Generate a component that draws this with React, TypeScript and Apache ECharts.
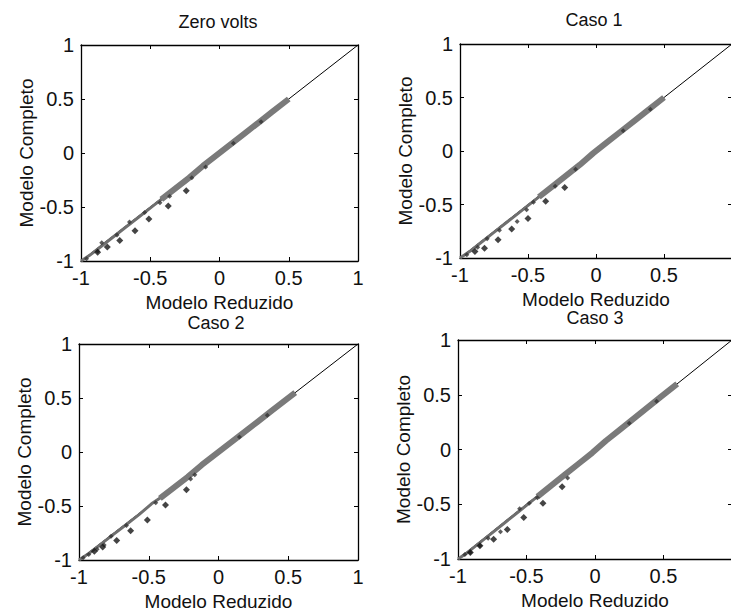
import React, { useEffect, useRef } from "react";
import * as echarts from "echarts";

// Titles
const titles = ["Zero volts", "Caso 1", "Caso 2", "Caso 3"];
const xName = "Modelo Reduzido";
const yName = "Modelo Completo";

// Axis ticks
const axisMin = -1;
const axisMax = 1;
const axisStep = 0.5;

// Reference line y = x
const diagX = [-1, 1];
const diagY = [-1, 1];

// Zero volts
const zvThinX = [-1, -0.94, -0.86, -0.77, -0.68, -0.58, -0.48, -0.4];
const zvThinY = [-1, -0.95, -0.87, -0.78, -0.69, -0.59, -0.49, -0.41];
const zvThickX = [-0.42, -0.32, -0.22, -0.12, -0.02, 0.08, 0.18, 0.28, 0.38, 0.5];
const zvThickY = [-0.43, -0.33, -0.23, -0.12, -0.02, 0.08, 0.18, 0.28, 0.38, 0.5];
const zvNearX = [-0.96, -0.88, -0.85, -0.74, -0.65, -0.54, -0.43, -0.36, -0.2, -0.1, 0.1, 0.3];
const zvNearY = [-0.98, -0.91, -0.83, -0.76, -0.64, -0.55, -0.46, -0.4, -0.23, -0.13, 0.09, 0.29];
const zvOutX = [-0.24, -0.37, -0.51, -0.61, -0.72, -0.81, -0.88];
const zvOutY = [-0.35, -0.49, -0.61, -0.72, -0.81, -0.87, -0.92];

// Caso 1
const c1ThinX = [-1, -0.93, -0.85, -0.76, -0.67, -0.57, -0.48, -0.4];
const c1ThinY = [-1, -0.94, -0.86, -0.77, -0.68, -0.58, -0.49, -0.41];
const c1ThickX = [-0.42, -0.32, -0.22, -0.12, -0.02, 0.08, 0.18, 0.28, 0.38, 0.5];
const c1ThickY = [-0.43, -0.33, -0.23, -0.13, -0.02, 0.08, 0.18, 0.28, 0.38, 0.5];
const c1NearX = [-0.95, -0.87, -0.8, -0.71, -0.58, -0.51, -0.46, -0.3, -0.15, 0.2, 0.4];
const c1NearY = [-0.97, -0.9, -0.82, -0.74, -0.66, -0.55, -0.48, -0.33, -0.17, 0.19, 0.39];
const c1OutX = [-0.23, -0.37, -0.5, -0.62, -0.72, -0.82, -0.89];
const c1OutY = [-0.34, -0.47, -0.63, -0.73, -0.83, -0.91, -0.94];

// Caso 2
const c2ThinX = [-1, -0.93, -0.85, -0.76, -0.67, -0.57, -0.48, -0.4];
const c2ThinY = [-1, -0.94, -0.86, -0.77, -0.68, -0.58, -0.48, -0.41];
const c2ThickX = [-0.42, -0.32, -0.22, -0.12, -0.02, 0.08, 0.18, 0.28, 0.38, 0.48, 0.55];
const c2ThickY = [-0.43, -0.33, -0.23, -0.12, -0.02, 0.08, 0.18, 0.28, 0.38, 0.48, 0.55];
const c2NearX = [-0.97, -0.93, -0.87, -0.82, -0.77, -0.66, -0.45, -0.2, -0.17, 0.15, 0.35];
const c2NearY = [-0.98, -0.95, -0.9, -0.86, -0.78, -0.68, -0.47, -0.25, -0.21, 0.14, 0.34];
const c2OutX = [-0.23, -0.38, -0.51, -0.63, -0.73, -0.83, -0.89];
const c2OutY = [-0.35, -0.49, -0.63, -0.73, -0.82, -0.88, -0.92];

// Caso 3
const c3ThinX = [-1, -0.93, -0.85, -0.76, -0.67, -0.57, -0.48, -0.4];
const c3ThinY = [-1, -0.94, -0.86, -0.77, -0.68, -0.58, -0.49, -0.41];
const c3ThickX = [-0.42, -0.32, -0.22, -0.12, -0.02, 0.08, 0.18, 0.28, 0.38, 0.48, 0.6];
const c3ThickY = [-0.43, -0.33, -0.23, -0.13, -0.03, 0.08, 0.18, 0.28, 0.38, 0.48, 0.6];
const c3NearX = [-0.95, -0.91, -0.84, -0.78, -0.69, -0.55, -0.48, -0.42, -0.2, 0.25, 0.45];
const c3NearY = [-0.96, -0.94, -0.88, -0.81, -0.75, -0.54, -0.49, -0.44, -0.26, 0.24, 0.44];
const c3OutX = [-0.24, -0.38, -0.52, -0.64, -0.74, -0.84, -0.91];
const c3OutY = [-0.34, -0.49, -0.62, -0.73, -0.82, -0.88, -0.94];

const panels = [
  { thinX: zvThinX, thinY: zvThinY, thickX: zvThickX, thickY: zvThickY, nearX: zvNearX, nearY: zvNearY, outX: zvOutX, outY: zvOutY },
  { thinX: c1ThinX, thinY: c1ThinY, thickX: c1ThickX, thickY: c1ThickY, nearX: c1NearX, nearY: c1NearY, outX: c1OutX, outY: c1OutY },
  { thinX: c2ThinX, thinY: c2ThinY, thickX: c2ThickX, thickY: c2ThickY, nearX: c2NearX, nearY: c2NearY, outX: c2OutX, outY: c2OutY },
  { thinX: c3ThinX, thinY: c3ThinY, thickX: c3ThickX, thickY: c3ThickY, nearX: c3NearX, nearY: c3NearY, outX: c3OutX, outY: c3OutY },
];

const layout = [
  { left: 81, top: 45, width: 277, height: 216, titleX: 218, titleY: 15, showMax: true },
  { left: 460, top: 44, width: 272, height: 214, titleX: 594, titleY: 13, showMax: false },
  { left: 79, top: 344, width: 279, height: 216, titleX: 216, titleY: 316, showMax: true },
  { left: 458, top: 340, width: 274, height: 219, titleX: 595, titleY: 311, showMax: false },
];

const FONT = "'Liberation Sans', Arial, sans-serif";
const pair = (xs: number[], ys: number[]) => xs.map((x, i) => [x, ys[i]]);

export default function App() {
  const ref = useRef<HTMLDivElement>(null);
  useEffect(() => {
    if (!ref.current) return;
    const chart = echarts.init(ref.current, undefined, { renderer: "svg" });
    const grid: any[] = [];
    const xAxis: any[] = [];
    const yAxis: any[] = [];
    const series: any[] = [];
    const title: any[] = [];
    layout.forEach((l, i) => {
      grid.push({
        left: l.left,
        top: l.top,
        width: l.width,
        height: l.height,
        show: false,
        containLabel: false,
        outerBoundsMode: "none",
      });
      title.push({
        text: titles[i],
        left: l.titleX,
        top: l.titleY,
        textAlign: "center",
        padding: 0,
        textStyle: { fontFamily: FONT, fontSize: 18, lineHeight: 14, fontWeight: "normal", color: "#111" },
      });
      const common = {
        type: "value",
        gridIndex: i,
        min: axisMin,
        max: axisMax,
        interval: axisStep,
        splitLine: { show: false },
        axisLine: { show: true, onZero: false, lineStyle: { color: "#000", width: 1.3 } },
        axisTick: { show: true, inside: true, length: 4, lineStyle: { color: "#000" } },
      };
      xAxis.push({
        ...common,
        position: "bottom",
        axisLabel: {
          show: true,
          fontFamily: FONT,
          fontSize: 20,
          color: "#111",
          margin: 7,
          showMaxLabel: l.showMax,
        },
        name: xName,
        nameLocation: "middle",
        nameGap: 34,
        nameTextStyle: { fontFamily: FONT, fontSize: 19, lineHeight: 14, color: "#111" },
      });
      xAxis.push({ ...common, position: "top", axisLabel: { show: false } });
      yAxis.push({
        ...common,
        position: "left",
        axisLabel: { show: true, fontFamily: FONT, fontSize: 20, color: "#111", margin: 7 },
        name: yName,
        nameLocation: "middle",
        nameGap: 41,
        nameTextStyle: { fontFamily: FONT, fontSize: 19, color: "#111" },
      });
      yAxis.push({ ...common, position: "right", axisLabel: { show: false } });
      const p = panels[i];
      const ax = { xAxisIndex: 2 * i, yAxisIndex: 2 * i };
      series.push({ type: "line", ...ax, data: pair(diagX, diagY), symbol: "none", lineStyle: { color: "#000", width: 1 }, z: 2 });
      series.push({ type: "line", ...ax, data: pair(p.thinX, p.thinY), symbol: "none", lineStyle: { color: "#6f6f6f", width: 3 }, z: 3 });
      series.push({ type: "line", ...ax, data: pair(p.thickX, p.thickY), symbol: "none", lineStyle: { color: "#7a7a7a", width: 6 }, z: 3 });
      series.push({ type: "scatter", ...ax, data: pair(p.nearX, p.nearY), symbol: "diamond", symbolSize: 5, itemStyle: { color: "#333" }, z: 4 });
      series.push({ type: "scatter", ...ax, data: pair(p.outX, p.outY), symbol: "diamond", symbolSize: 7, itemStyle: { color: "#151515" }, z: 5 });
    });
    chart.setOption({
      animation: false,
      backgroundColor: "#fff",
      title,
      grid,
      xAxis,
      yAxis,
      series,
    });
    return () => chart.dispose();
  }, []);
  return (
    <div
      ref={ref}
      style={{ position: "fixed", left: 0, top: 0, width: 731, height: 613, background: "#fff" }}
    />
  );
}
